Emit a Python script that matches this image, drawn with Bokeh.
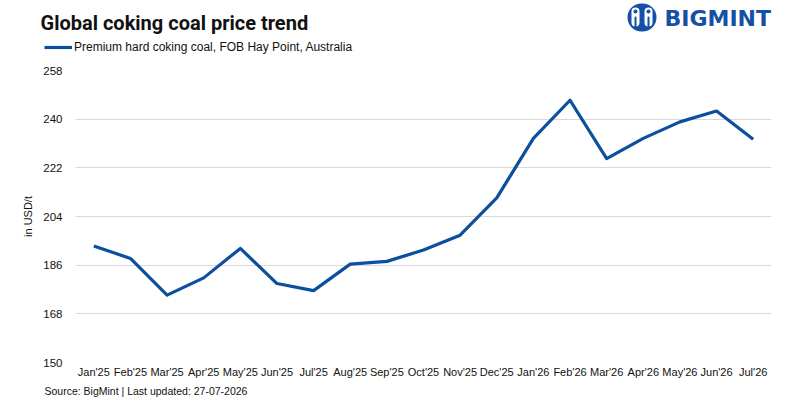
from bokeh.plotting import figure
from bokeh.models import (FixedTicker, Label, Legend, LegendItem, BoxAnnotation,
                          ColumnDataSource, Range1d)
from bokeh.layouts import column
from bokeh.embed import file_html
from bokeh.resources import INLINE

months = ["Jan'25", "Feb'25", "Mar'25", "Apr'25", "May'25", "Jun'25", "Jul'25", "Aug'25",
          "Sep'25", "Oct'25", "Nov'25", "Dec'25", "Jan'26", "Feb'26", "Mar'26", "Apr'26",
          "May'26", "Jun'26", "Jul'26"]
prices = [193.1, 188.5, 174.9, 181.3, 192.2, 179.2, 176.6, 186.4, 187.4, 191.6, 197.1,
          210.9, 232.9, 247.0, 225.4, 232.9, 239.0, 243.0, 232.6]
y_ticks = [150, 168, 186, 204, 222, 240, 258]
series_name = "Premium hard coking coal, FOB Hay Point, Australia"
title_text = "Global coking coal price trend"
source_text = "Source: BigMint | Last updated: 27-07-2026"
y_label = "in USD/t"
logo_text = "BIGMINT"

LINE = "#0b4f9e"
LOGO = "#1550a8"
FONT = "Liberation Sans"
W = 800

src = ColumnDataSource(dict(month=months, price=prices))


def blank(h):
    f = figure(frame_width=W, frame_height=h, x_range=Range1d(0, W), y_range=Range1d(h, 0),
               output_backend="svg", toolbar_location=None, x_axis_type=None,
               y_axis_type=None, min_border=0)
    try:
        f.frame_align = False
    except Exception:
        pass
    f.outline_line_color = None
    f.grid.grid_line_color = None
    return f


# ---- header: title, legend, logo
head = blank(60)
head.add_layout(Label(x=40, y=22, text=title_text, text_font="Roboto", text_font_style="bold",
                      text_font_size="20px", text_color="#111111", text_baseline="middle",
                      text_align="left"))

# legend key: same series, lies outside this strip's range so only its legend swatch shows
key = head.line(x="price", y="price", source=src, line_color=LINE, line_width=3.2)
legend = Legend(items=[LegendItem(label=series_name, renderers=[key])], location=(44, 6),
                orientation="horizontal", padding=0, margin=0, spacing=0,
                glyph_width=28, glyph_height=14, label_height=14, label_standoff=2,
                label_text_font=FONT, label_text_font_size="12px", label_text_color="#111111",
                border_line_color=None, background_fill_alpha=0)
head.add_layout(legend, "center")


def box(l, r_, t, b, color, rad):
    return BoxAnnotation(left=l, right=r_, top=t, bottom=b, fill_color=color, fill_alpha=1,
                         line_color=None, border_radius=rad)


head.add_layout(box(627, 656, 3, 31, LOGO, 14))
for lx in (631, 644):
    head.add_layout(box(lx, lx + 8, 7, 26, "white", 4))
    head.add_layout(box(lx + 2, lx + 6, 9, 13, LOGO, 2))
    head.add_layout(box(lx + 3, lx + 5, 16, 27, LOGO, 1))
head.add_layout(Label(x=664, y=18, text=logo_text, text_font="DejaVu Sans",
                      text_font_style="bold", text_font_size="22px", text_color=LOGO,
                      text_baseline="middle", text_align="left"))

# ---- main chart
p = figure(width=W, height=322, x_range=months, y_range=(150, 258),
           output_backend="svg", toolbar_location=None,
           min_border_left=75, min_border_right=29, min_border_top=10, min_border_bottom=20)
p.outline_line_color = None

r = p.line("month", "price", source=src, line_color=LINE, line_width=3.2, line_join="round")

p.yaxis.ticker = FixedTicker(ticks=y_ticks)
p.yaxis.axis_line_color = None
p.yaxis.major_tick_line_color = None
p.yaxis.minor_tick_line_color = None
p.yaxis.major_tick_out = 0
p.yaxis.major_label_standoff = 13
p.yaxis.major_label_text_font = FONT
p.yaxis.major_label_text_font_size = "11.5px"
p.yaxis.major_label_text_color = "#111111"
p.yaxis.axis_label = y_label
p.yaxis.axis_label_text_font = FONT
p.yaxis.axis_label_text_font_style = "normal"
p.yaxis.axis_label_text_font_size = "11px"
p.yaxis.axis_label_text_color = "#111111"
p.yaxis.axis_label_standoff = 6

p.xaxis.axis_line_color = None
p.xaxis.major_tick_line_color = None
p.xaxis.minor_tick_line_color = None
p.xaxis.major_tick_out = 0
p.xaxis.major_label_standoff = 3
p.xaxis.major_label_text_font = FONT
p.xaxis.major_label_text_font_size = "11px"
p.xaxis.major_label_text_color = "#111111"

p.xgrid.grid_line_color = None
p.ygrid.grid_line_color = "#d9d9d9"
p.ygrid.grid_line_width = 1

# ---- footer
foot = blank(18)
foot.add_layout(Label(x=44, y=8, text=source_text, text_font=FONT, text_font_size="10.5px",
                      text_color="#111111", text_baseline="middle", text_align="left"))

layout = column(head, p, foot, spacing=0)
open("out.html", "w").write(file_html(layout, INLINE))
